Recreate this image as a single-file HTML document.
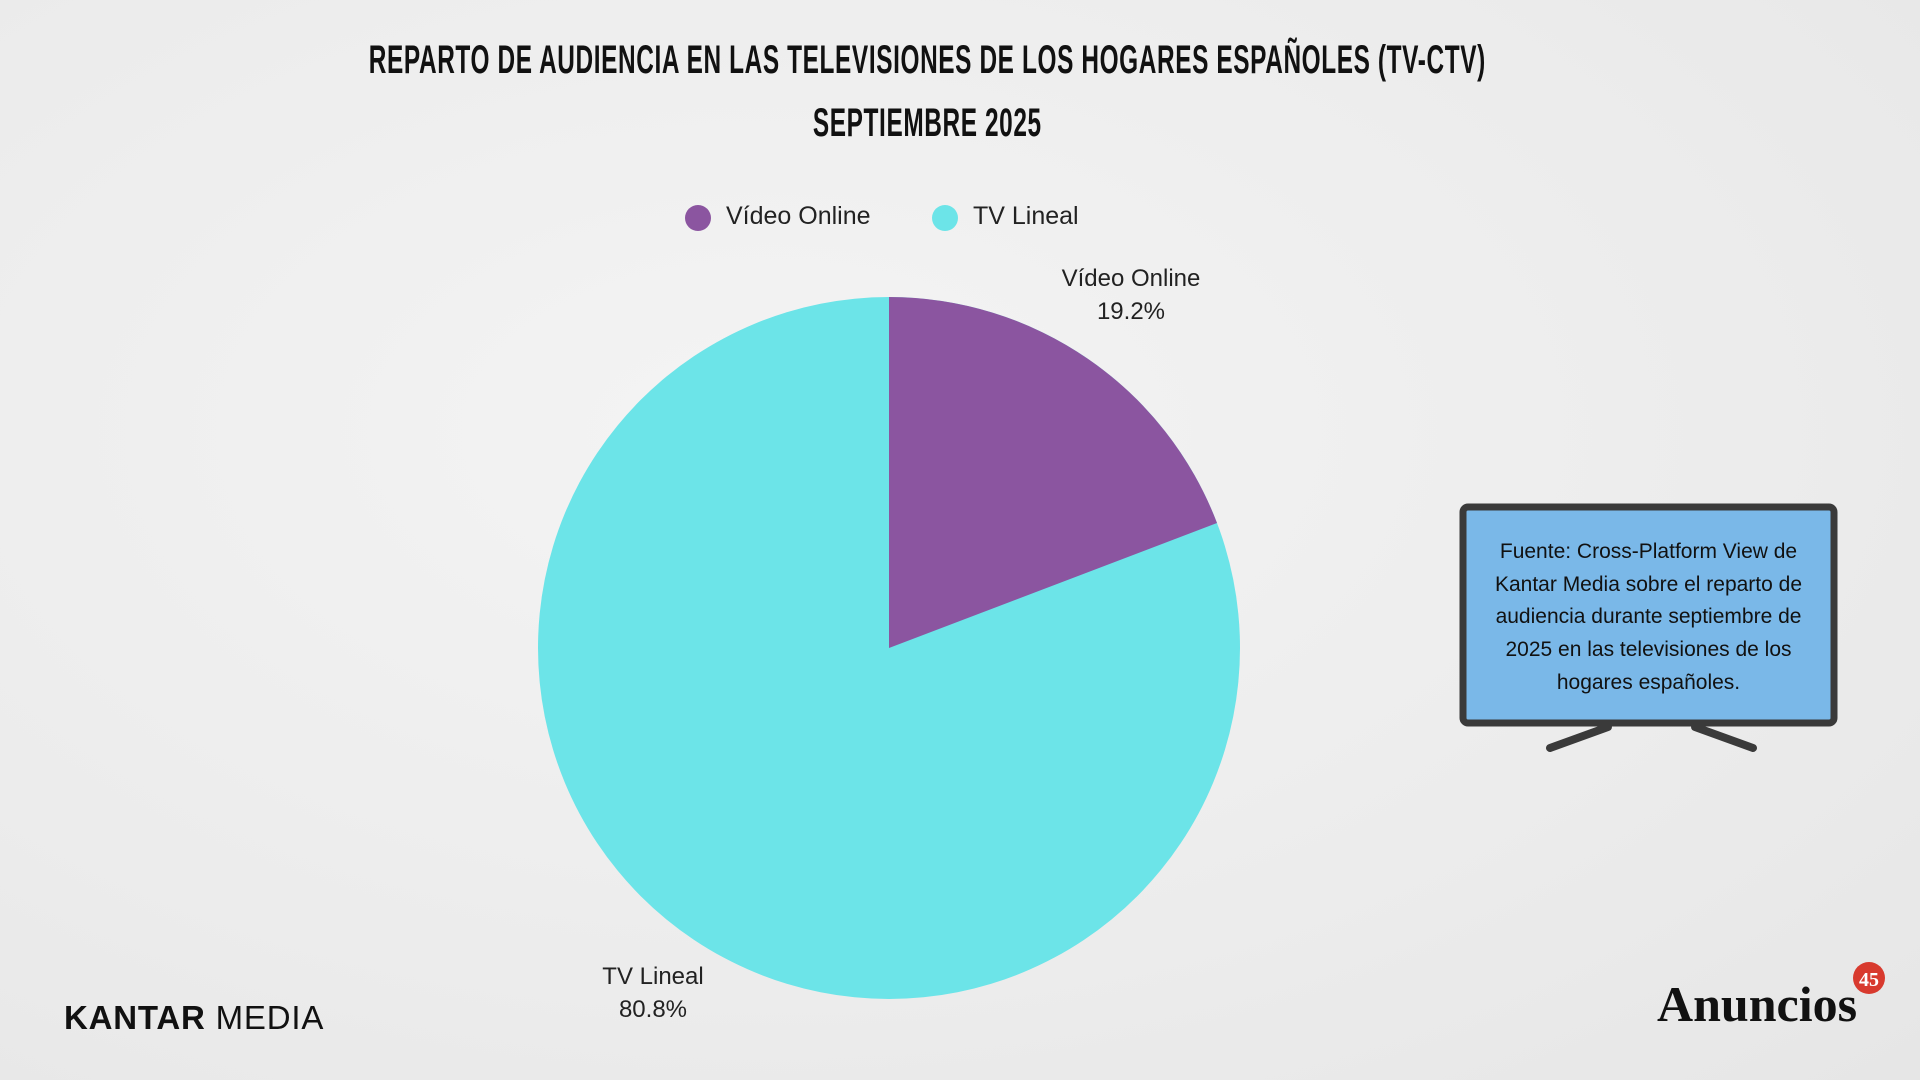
<!DOCTYPE html>
<html><head><meta charset="utf-8"><style>
html,body{margin:0;padding:0;}
body{width:1920px;height:1080px;position:relative;overflow:hidden;background:radial-gradient(ellipse at 40% 40%,#f4f4f4 0%,#ececec 60%,#e6e6e6 100%);font-family:"Liberation Sans",sans-serif;}
.t{position:absolute;white-space:nowrap;}
.title{left:0;width:1855px;text-align:center;font-weight:bold;font-size:40px;color:#111;transform:scaleX(0.61);transform-origin:927px 0;letter-spacing:1px;}
.lg{font-size:25px;color:#222;top:202px;}
.lab{font-size:24px;color:#222;text-align:center;transform:translateX(-50%);line-height:33px;}
.src{font-size:21px;color:#111;text-align:center;line-height:32.7px;left:1470px;width:357px;top:536px;white-space:normal;}
</style></head><body>
<div class="t title" style="top:38px">REPARTO DE AUDIENCIA EN LAS TELEVISIONES DE LOS HOGARES ESPAÑOLES (TV-CTV)</div>
<div class="t title" style="top:101px">SEPTIEMBRE 2025</div>
<svg width="1920" height="1080" style="position:absolute;left:0;top:0">
<circle cx="698" cy="218" r="13" fill="#8b55a0"/>
<circle cx="945" cy="218" r="13" fill="#6ce4e8"/>
<circle cx="889" cy="648" r="351" fill="#6ce4e8"/>
<path d="M889 648 L889 297 A351 351 0 0 1 1217 523 Z" fill="#8b55a0"/>
<rect x="1463" y="507" width="371" height="216" rx="5" fill="#7ab8e8" stroke="#3a3a3a" stroke-width="7"/>
<line x1="1550" y1="748" x2="1608" y2="727" stroke="#3a3a3a" stroke-width="8" stroke-linecap="round"/>
<line x1="1695" y1="727" x2="1753" y2="748" stroke="#3a3a3a" stroke-width="8" stroke-linecap="round"/>
<circle cx="1869" cy="978" r="16" fill="#d83a2e"/>
<text x="1869" y="986" font-family="Liberation Serif" font-size="20" font-weight="bold" fill="#fff" text-anchor="middle">45</text>
</svg>
<div class="t lg" style="left:726px">Vídeo Online</div>
<div class="t lg" style="left:973px">TV Lineal</div>
<div class="t lab" style="left:1131px;top:262px">Vídeo Online<br>19.2%</div>
<div class="t lab" style="left:653px;top:960px">TV Lineal<br>80.8%</div>
<div class="t src">Fuente: Cross-Platform View de Kantar Media sobre el reparto de audiencia durante septiembre de 2025 en las televisiones de los hogares españoles.</div>
<div class="t" style="left:64px;top:999px;font-size:33px;color:#111;letter-spacing:0.8px"><b>KANTAR</b> MEDIA</div>
<div class="t" style="left:1657px;top:975px;font-family:'Liberation Serif',serif;font-weight:bold;font-size:50px;color:#111;letter-spacing:0px">Anuncios</div>
</body></html>
